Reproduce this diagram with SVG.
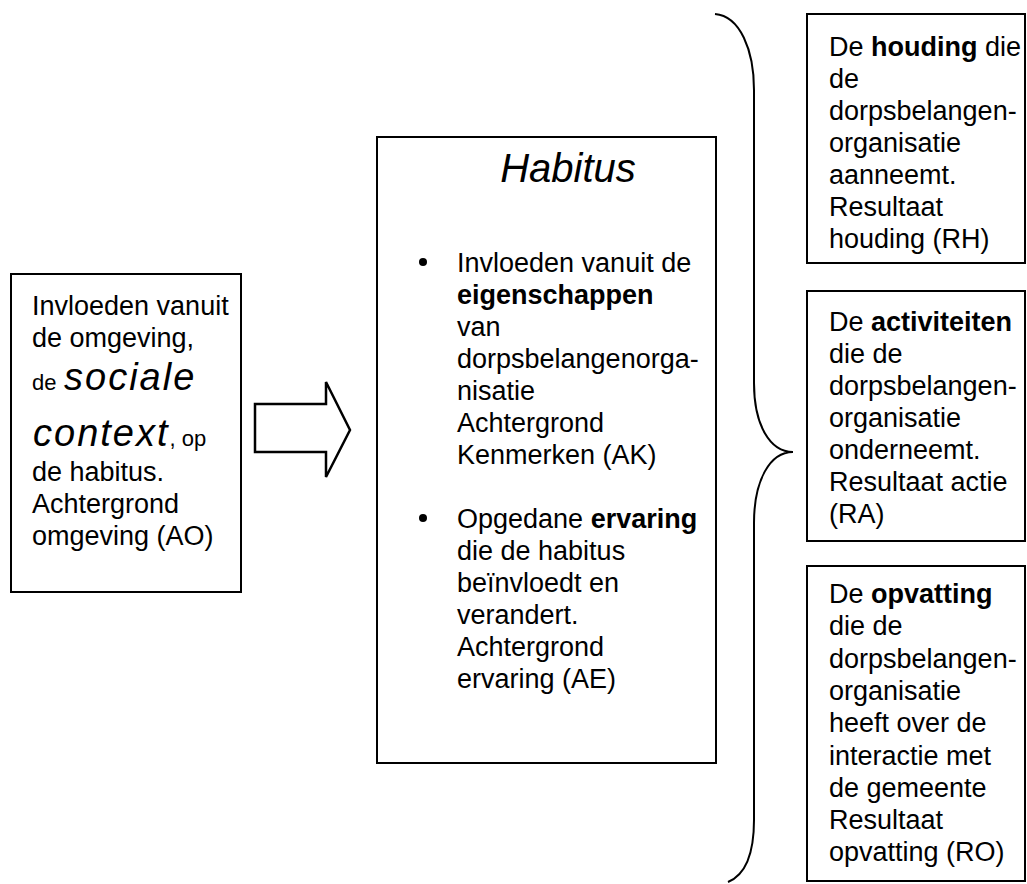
<svg xmlns="http://www.w3.org/2000/svg" width="1027" height="884" viewBox="0 0 1027 884">
<style>
.t { font-family: "Liberation Sans", Arial, sans-serif; font-size: 27px; fill: #000; }
.b { font-weight: bold; }
.it { font-style: italic; }
.sm { font-size: 22px; }
.big { font-size: 38px; font-style: italic; letter-spacing: 2px; }
.title { font-size: 40px; font-style: italic; }
.box { fill: #fff; stroke: #000; stroke-width: 2; }
.ln { fill: none; stroke: #000; stroke-width: 2; }
</style>
<rect width="1027" height="884" fill="#fff"/>
<g id="connectors">
  <path d="M255,404 H326 V382 L350,430 L326,477 V452 H255 Z" fill="#fff" stroke="#000" stroke-width="2.5" stroke-linejoin="miter"/>
  <path class="ln" d="M715,14 C740,16 754,50 754,90 V383 C754,425 770,452 793,452 C770,452 754,480 754,523 V820 C754,855 745,875 728,882"/>
</g>
<g id="omgeving">
  <rect class="box" x="11" y="274" width="230" height="318"/>
  <text class="t" x="32" y="315">Invloeden vanuit</text>
  <text class="t" x="32" y="347">de omgeving,</text>
  <text class="t" y="390"><tspan x="32" class="sm">de</tspan><tspan x="64" class="big">sociale</tspan></text>
  <text class="t" y="446"><tspan x="33" class="big">context</tspan><tspan class="sm">, op</tspan></text>
  <text class="t" x="32" y="481">de habitus.</text>
  <text class="t" x="32" y="513">Achtergrond</text>
  <text class="t" x="32" y="545">omgeving (AO)</text>
</g>
<g id="habitus">
  <rect class="box" x="377" y="137" width="339" height="626"/>
  <text class="t title" x="568" y="182" text-anchor="middle">Habitus</text>
  <circle cx="423" cy="262" r="4"/>
  <text class="t" x="457" y="272">Invloeden vanuit de</text>
  <text class="t b" x="457" y="304">eigenschappen</text>
  <text class="t" x="457" y="336">van</text>
  <text class="t" x="457" y="368">dorpsbelangenorga-</text>
  <text class="t" x="457" y="400">nisatie</text>
  <text class="t" x="457" y="432">Achtergrond</text>
  <text class="t" x="457" y="464">Kenmerken (AK)</text>
  <circle cx="423" cy="518" r="4"/>
  <text class="t" x="457" y="528">Opgedane <tspan class="b">ervaring</tspan></text>
  <text class="t" x="457" y="560">die de habitus</text>
  <text class="t" x="457" y="592">beïnvloedt en</text>
  <text class="t" x="457" y="624">verandert.</text>
  <text class="t" x="457" y="656">Achtergrond</text>
  <text class="t" x="457" y="688">ervaring (AE)</text>
</g>
<g id="houding">
  <rect class="box" x="807" y="14" width="218" height="249"/>
  <text class="t" x="829" y="56">De <tspan class="b">houding</tspan> die</text>
  <text class="t" x="829" y="88">de</text>
  <text class="t" x="829" y="120">dorpsbelangen-</text>
  <text class="t" x="829" y="152">organisatie</text>
  <text class="t" x="829" y="184">aanneemt.</text>
  <text class="t" x="829" y="216">Resultaat</text>
  <text class="t" x="829" y="248">houding (RH)</text>
</g>
<g id="activiteiten">
  <rect class="box" x="807" y="291" width="218" height="250"/>
  <text class="t" x="829" y="331">De <tspan class="b">activiteiten</tspan></text>
  <text class="t" x="829" y="363">die de</text>
  <text class="t" x="829" y="395">dorpsbelangen-</text>
  <text class="t" x="829" y="427">organisatie</text>
  <text class="t" x="829" y="459">onderneemt.</text>
  <text class="t" x="829" y="491">Resultaat actie</text>
  <text class="t" x="829" y="523">(RA)</text>
</g>
<g id="opvatting">
  <rect class="box" x="807" y="566" width="218" height="315"/>
  <text class="t" x="829" y="603">De <tspan class="b">opvatting</tspan></text>
  <text class="t" x="829" y="635">die de</text>
  <text class="t" x="829" y="668">dorpsbelangen-</text>
  <text class="t" x="829" y="700">organisatie</text>
  <text class="t" x="829" y="732">heeft over de</text>
  <text class="t" x="829" y="765">interactie met</text>
  <text class="t" x="829" y="797">de gemeente</text>
  <text class="t" x="829" y="829">Resultaat</text>
  <text class="t" x="829" y="861">opvatting (RO)</text>
</g>
</svg>
